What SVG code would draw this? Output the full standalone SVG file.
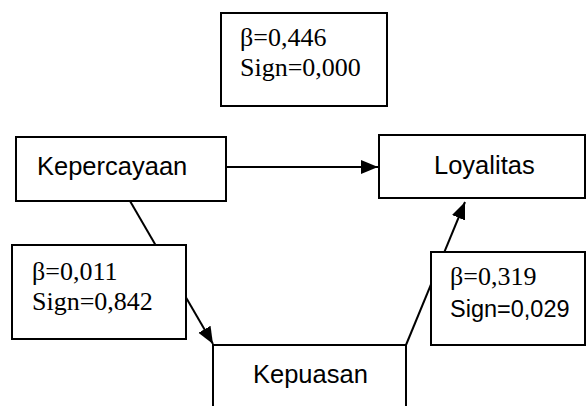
<svg xmlns="http://www.w3.org/2000/svg" width="587" height="406" viewBox="0 0 587 406">
<style>
.box{fill:#fff;stroke:#000;stroke-width:2}
.con{stroke:#000;stroke-width:2;fill:none}
.serif{font-family:"Liberation Serif","Times New Roman",serif;font-size:26px;fill:#000}
.sans{font-family:"Liberation Sans",Arial,sans-serif;font-size:25.5px;fill:#000}
.sans2{font-family:"Liberation Sans",Arial,sans-serif;font-size:23.5px;fill:#000}
</style>
<defs>
<marker id="ah" markerUnits="userSpaceOnUse" markerWidth="18" markerHeight="16" refX="17" refY="8" orient="auto">
<path d="M0,1 L17,8 L0,15 Z" fill="#000"/>
</marker>
</defs>
<g id="connectors">
<line class="con" x1="226" y1="167" x2="378" y2="167" marker-end="url(#ah)"/>
<line class="con" x1="130" y1="201" x2="213" y2="344" marker-end="url(#ah)"/>
<line class="con" x1="406" y1="345" x2="465" y2="202" marker-end="url(#ah)"/>
</g>
<g id="note-top">
<rect class="box" x="221" y="13" width="166" height="93"/>
<text class="serif" x="240" y="46">β=0,446</text>
<text class="serif" x="240" y="76">Sign=0,000</text>
</g>
<g id="kepercayaan">
<rect class="box" x="16" y="137" width="210" height="64"/>
<text class="sans" x="37" y="175">Kepercayaan</text>
</g>
<g id="loyalitas">
<rect class="box" x="379" y="135" width="206" height="63"/>
<text class="sans" x="434" y="174">Loyalitas</text>
</g>
<g id="note-left">
<rect class="box" x="12" y="245" width="174" height="94"/>
<text class="serif" x="32" y="280">β=0,011</text>
<text class="serif" x="32" y="310">Sign=0,842</text>
</g>
<g id="note-right">
<rect class="box" x="431" y="252" width="154" height="93"/>
<text class="serif" x="450" y="285">β=0,319</text>
<text class="sans2" x="450" y="317">Sign=0,029</text>
</g>
<g id="kepuasan">
<rect class="box" x="213" y="345" width="193" height="80"/>
<text class="sans" x="253" y="383">Kepuasan</text>
</g>
</svg>
